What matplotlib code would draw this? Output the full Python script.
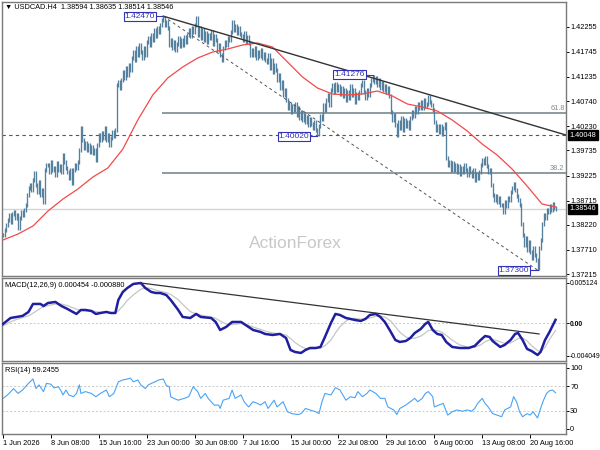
import matplotlib
matplotlib.use('Agg')
import matplotlib.pyplot as plt
import matplotlib.transforms as mtransforms
import numpy as np

plt.rcParams['font.family'] = ['Liberation Sans', 'DejaVu Sans']

# ---- USDCAD H4 closes, one list per trading week ----
wk_jun01 = [1.3801, 1.3811, 1.3822, 1.3832, 1.3842, 1.3828, 1.3844, 1.3848, 1.3836, 1.3842,
            1.3816, 1.3836, 1.3848, 1.3842, 1.3852, 1.3863, 1.3883, 1.3897, 1.3903, 1.3893,
            1.3913, 1.3928, 1.3903, 1.3889, 1.3909, 1.3883, 1.3893, 1.3869, 1.3934, 1.3944]
wk_jun08 = [1.3944, 1.3930, 1.3950, 1.3934, 1.3938, 1.3924, 1.3948, 1.3934, 1.3942, 1.3930,
            1.3964, 1.3950, 1.3938, 1.3930, 1.3918, 1.3934, 1.3907, 1.3934, 1.3944, 1.3938,
            1.3950, 1.3975, 1.4019, 1.3995, 1.3979, 1.3989, 1.3975, 1.3985, 1.3971, 1.3981]
wk_jun15 = [1.3969, 1.3975, 1.3954, 1.3985, 1.4005, 1.3995, 1.4009, 1.3999, 1.4019, 1.3995,
            1.4005, 1.3985, 1.3999, 1.4011, 1.4003, 1.4015, 1.4107, 1.4113, 1.4101, 1.4117,
            1.4133, 1.4121, 1.4141, 1.4127, 1.4148, 1.4137, 1.4162, 1.4174, 1.4158, 1.4182]
wk_jun22 = [1.4168, 1.4188, 1.4174, 1.4162, 1.4182, 1.4168, 1.4194, 1.4203, 1.4188, 1.4209,
            1.4198, 1.4219, 1.4207, 1.4223, 1.4215, 1.4229, 1.4239, 1.4243, 1.4229, 1.4235,
            1.4223, 1.4188, 1.4198, 1.4182, 1.4194, 1.4178, 1.4190, 1.4203, 1.4186, 1.4198]
wk_jun29 = [1.4188, 1.4205, 1.4194, 1.4209, 1.4219, 1.4207, 1.4223, 1.4215, 1.4229, 1.4243,
            1.4209, 1.4223, 1.4203, 1.4219, 1.4198, 1.4213, 1.4194, 1.4209, 1.4203, 1.4215,
            1.4190, 1.4207, 1.4198, 1.4178, 1.4188, 1.4168, 1.4158, 1.4182, 1.4194, 1.4188]
wk_jul06 = [1.4203, 1.4198, 1.4215, 1.4235, 1.4219, 1.4227, 1.4213, 1.4223, 1.4211, 1.4207,
            1.4198, 1.4213, 1.4194, 1.4205, 1.4192, 1.4168, 1.4178, 1.4168, 1.4182, 1.4162,
            1.4174, 1.4166, 1.4178, 1.4162, 1.4170, 1.4158, 1.4154, 1.4168, 1.4141, 1.4158]
wk_jul13 = [1.4133, 1.4148, 1.4137, 1.4117, 1.4127, 1.4101, 1.4113, 1.4087, 1.4097, 1.4076,
            1.4060, 1.4068, 1.4052, 1.4064, 1.4056, 1.4068, 1.4046, 1.4060, 1.4040, 1.4052,
            1.4035, 1.4046, 1.4031, 1.4042, 1.4025, 1.4038, 1.4027, 1.4019, 1.4031, 1.4015]
wk_jul20 = [1.4006, 1.4023, 1.4044, 1.4038, 1.4066, 1.4056, 1.4076, 1.4087, 1.4066, 1.4097,
            1.4107, 1.4093, 1.4109, 1.4097, 1.4105, 1.4089, 1.4101, 1.4084, 1.4097, 1.4076,
            1.4093, 1.4080, 1.4105, 1.4087, 1.4097, 1.4072, 1.4089, 1.4080, 1.4093, 1.4107]
wk_jul27 = [1.4113, 1.4093, 1.4080, 1.4097, 1.4087, 1.4107, 1.4117, 1.4124, 1.4113, 1.4121,
            1.4107, 1.4117, 1.4101, 1.4111, 1.4097, 1.4105, 1.4093, 1.4101, 1.4084, 1.4052,
            1.4035, 1.4046, 1.4025, 1.4005, 1.4031, 1.4019, 1.4040, 1.4015, 1.4035, 1.4023]
wk_aug03 = [1.4031, 1.4019, 1.4040, 1.4052, 1.4044, 1.4060, 1.4052, 1.4068, 1.4060, 1.4072,
            1.4060, 1.4076, 1.4064, 1.4068, 1.4082, 1.4072, 1.4066, 1.4056, 1.4031, 1.4015,
            1.4023, 1.4011, 1.4023, 1.4007, 1.4019, 1.4027, 1.3958, 1.3944, 1.3950, 1.3934]
wk_aug10 = [1.3948, 1.3934, 1.3944, 1.3930, 1.3942, 1.3926, 1.3938, 1.3930, 1.3944, 1.3934,
            1.3924, 1.3938, 1.3930, 1.3922, 1.3934, 1.3913, 1.3926, 1.3918, 1.3930, 1.3944,
            1.3954, 1.3948, 1.3958, 1.3942, 1.3930, 1.3934, 1.3903, 1.3883, 1.3873, 1.3881]
wk_aug17 = [1.3869, 1.3877, 1.3863, 1.3863, 1.3848, 1.3869, 1.3861, 1.3877, 1.3873, 1.3889,
            1.3897, 1.3905, 1.3893, 1.3881, 1.3873, 1.3863, 1.3824, 1.3801, 1.3781, 1.3795,
            1.3771, 1.3787, 1.3767, 1.3754, 1.3775, 1.3761, 1.3751, 1.3734, 1.3775, 1.3791]
wk_aug24 = [1.3824, 1.3842, 1.3836, 1.3852, 1.3848, 1.3860, 1.3852, 1.3864, 1.3856, 1.38546]

# ---- moving average (red), sampled every 10 bars ----
ma_bars = list(range(0, 361, 10)) + [369]
ma_vals = [1.37913, 1.38035, 1.38198, 1.38503, 1.38747, 1.38951, 1.39195, 1.39379, 1.39763, 1.40356,
           1.40865, 1.41211, 1.41435, 1.41618, 1.41740, 1.41801, 1.41883, 1.41923, 1.41842, 1.41537,
           1.41231, 1.41007, 1.40885, 1.40865, 1.40885, 1.40946, 1.40844, 1.40682, 1.40620, 1.40539,
           1.40356, 1.40132, 1.39867, 1.39643, 1.39358, 1.39012, 1.38646, 1.38585]

# ---- MACD(12,26,9) ----
macd_bars = [0, 5, 9, 13, 17, 20, 25, 27, 30, 35, 39, 43, 49, 52, 55, 59, 62, 65, 69, 72,
             75, 77, 80, 83, 87, 92, 95, 99, 102, 105, 109, 112, 117, 120, 125, 129, 132, 139, 142, 145,
             149, 153, 159, 162, 167, 172, 175, 180, 185, 189, 192, 195, 199, 202, 205, 209, 212, 215, 219, 222,
             225, 229, 232, 235, 239, 242, 245, 249, 252, 255, 259, 262, 265, 269, 272, 275, 279, 282, 284, 287,
             290, 293, 296, 300, 305, 311, 315, 319, 322, 325, 327, 332, 335, 339, 342, 344, 347, 350, 353, 357,
             359, 362, 365, 369]
macd_main = [-0.00006, 0.00069, 0.00082, 0.00095, 0.00145, 0.00246, 0.00246, 0.00220, 0.00258, 0.00271,
             0.00220, 0.00183, 0.00120, 0.00170, 0.00170, 0.00158, 0.00120, 0.00132, 0.00145, 0.00132,
             0.00132, 0.00296, 0.00397, 0.00447, 0.00498, 0.00510, 0.00447, 0.00397, 0.00384, 0.00384,
             0.00359, 0.00296, 0.00170, 0.00082, 0.00069, 0.00120, 0.00082, 0.00069, 0.00019, -0.00082,
             -0.00044, 0.00019, 0.00019, -0.00019, -0.00082, -0.00107, -0.00132, -0.00145, -0.00132, -0.00183,
             -0.00334, -0.00359, -0.00372, -0.00334, -0.00309, -0.00309, -0.00296, -0.00170, 0.00006, 0.00120,
             0.00107, 0.00069, 0.00057, 0.00044, 0.00032, 0.00057, 0.00107, 0.00120, 0.00082, 0.00019,
             -0.00107, -0.00208, -0.00233, -0.00221, -0.00183, -0.00120, -0.00069, -0.00006, 0.00019, -0.00082,
             -0.00132, -0.00145, -0.00233, -0.00296, -0.00309, -0.00309, -0.00284, -0.00208, -0.00158, -0.00170,
             -0.00221, -0.00296, -0.00271, -0.00208, -0.00132, -0.00120, -0.00208, -0.00321, -0.00347, -0.00397,
             -0.00359, -0.00208, -0.00107, 0.000454]
macd_signal = [-0.00030, 0.00020, 0.00050, 0.00075, 0.00095, 0.00130, 0.00190, 0.00210, 0.00225, 0.00245,
               0.00245, 0.00225, 0.00180, 0.00165, 0.00160, 0.00160, 0.00150, 0.00140, 0.00138, 0.00135,
               0.00133, 0.00160, 0.00220, 0.00290, 0.00360, 0.00430, 0.00450, 0.00440, 0.00420, 0.00405,
               0.00390, 0.00365, 0.00300, 0.00240, 0.00150, 0.00120, 0.00105, 0.00080, 0.00065, 0.00030,
               -0.00005, -0.00015, 0.00000, -0.00010, -0.00045, -0.00075, -0.00095, -0.00120, -0.00130, -0.00145,
               -0.00190, -0.00240, -0.00290, -0.00315, -0.00320, -0.00315, -0.00310, -0.00280, -0.00210, -0.00120,
               -0.00040, 0.00030, 0.00060, 0.00065, 0.00055, 0.00055, 0.00070, 0.00090, 0.00095, 0.00080,
               0.00030, -0.00040, -0.00110, -0.00170, -0.00190, -0.00185, -0.00160, -0.00120, -0.00090, -0.00080,
               -0.00090, -0.00110, -0.00150, -0.00210, -0.00270, -0.00300, -0.00300, -0.00270, -0.00230, -0.00205,
               -0.00200, -0.00230, -0.00250, -0.00245, -0.00215, -0.00190, -0.00180, -0.00220, -0.00280, -0.00340,
               -0.00360, -0.00300, -0.00200, -0.00088]

# ---- RSI(14) ----
rsi_bars = [0, 3, 7, 10, 13, 17, 20, 22, 24, 27, 29, 32, 34, 37, 39, 40, 42, 44, 47, 49,
            51, 52, 55, 59, 62, 65, 69, 71, 74, 77, 80, 83, 85, 87, 90, 92, 95, 97, 101, 104,
            107, 109, 111, 112, 114, 117, 121, 124, 127, 130, 132, 135, 137, 141, 144, 145, 147, 151, 153, 155,
            159, 161, 164, 167, 170, 172, 175, 177, 181, 183, 187, 190, 193, 197, 199, 202, 205, 209, 211, 213,
            215, 219, 222, 225, 229, 232, 235, 237, 240, 243, 245, 249, 252, 255, 257, 261, 263, 265, 269, 272,
            275, 277, 280, 282, 284, 287, 288, 291, 294, 297, 300, 303, 307, 310, 313, 315, 317, 320, 322, 324,
            327, 330, 333, 335, 339, 341, 343, 345, 347, 350, 352, 354, 357, 359, 361, 363, 365, 367, 369]
rsi_vals = [50, 55.5, 66, 58, 63.6, 74.5, 81.6, 66, 72, 61, 74.5, 73, 67, 69, 61, 55.5, 63.6, 55.5, 52.7, 58,
            72, 58, 61, 58, 52.7, 58, 63.6, 52.7, 58, 77, 80, 81.6, 83, 77, 80, 72, 66, 72, 76.5, 80,
            81.6, 71, 69, 52.7, 50, 47, 50, 52.7, 69, 61, 50, 58, 50, 39, 39, 33.5, 47, 50, 63.6, 50,
            55.5, 44.5, 36, 44.5, 41.7, 39, 44.5, 33.5, 47, 36, 44.5, 28, 25, 23.6, 25, 33.5, 31, 28, 25, 44.5,
            58, 55.5, 67.5, 63.6, 47, 52.7, 51, 61, 52.7, 58, 63.6, 58, 50, 50, 36, 31, 23.6, 33.5, 39, 44.5,
            50, 44.5, 50, 58, 61, 52.7, 36, 39, 41.7, 22.6, 28, 31, 29, 31, 29, 33.5, 41.7, 50, 41.7, 36,
            25, 22.6, 20, 31, 36, 52.7, 44.5, 28, 20, 25, 22.6, 28, 18, 33.5, 47, 58, 62.5, 63.6, 59.2455]

# ---- drawn objects ----
swing_hi, swing_lo = 1.42470, 1.37300
fib_ratios = [0.618, 0.382]
fib_start_bar = 107
trend_bars, trend_prices = [107, 376], [1.42470, 1.40050]
channel_bars, channel_prices = [107, 357], [1.42470, 1.37300]
macd_trend_bars, macd_trend_vals = [92, 358], [0.00510, -0.00132]
tag_bars = [107, 247, 210, 357]
tag_prices = [1.42470, 1.41276, 1.40020, 1.37300]
support_level = 1.40048
last_price = 1.38546

price_ticks = [1.42255, 1.41745, 1.41235, 1.40740, 1.40230, 1.39735,
               1.39225, 1.38715, 1.38220, 1.37710, 1.37215]
date_bars = list(range(0, 353, 32))
date_labels = ['1 Jun 2026', '8 Jun 08:00', '15 Jun 16:00', '23 Jun 00:00', '30 Jun 08:00',
               '7 Jul 16:00', '15 Jul 00:00', '22 Jul 08:00', '29 Jul 16:00', '6 Aug 00:00',
               '13 Aug 08:00', '20 Aug 16:00']

closes = np.array(wk_jun01 + wk_jun08 + wk_jun15 + wk_jun22 + wk_jun29 + wk_jul06 + wk_jul13
                  + wk_jul20 + wk_jul27 + wk_aug03 + wk_aug10 + wk_aug17 + wk_aug24)
opens = np.r_[closes[0], closes[:-1]]
wick = 0.0004
highs = np.maximum(opens, closes) + wick
lows = np.minimum(opens, closes) - wick
bars = np.arange(len(closes))

FS = 5.3
frame_col = '#7a7a7a'
tag_col = '#3333b8'

fig = plt.figure(figsize=(6, 4.5), dpi=100)
ax1 = fig.add_axes([2/600, 174/450, 564/600, 274/450])
ax2 = fig.add_axes([2/600, 89/450, 564/600, 83/450])
ax3 = fig.add_axes([2/600, 16/450, 564/600, 71/450])

for ax in (ax1, ax2, ax3):
    ax.set_xlim(-0.7, 376)
    for s in ax.spines.values():
        s.set_color(frame_col)
        s.set_linewidth(1.0)
    ax.yaxis.tick_right()
    ax.tick_params(axis='y', direction='out', length=2, width=0.7, labelsize=FS, pad=1, colors='black')
    ax.tick_params(axis='x', direction='out', length=3, width=0.7, labelsize=FS, pad=1)
    ax.set_xticks([])

# ---------- main price panel ----------
ax1.set_ylim(1.37180, 1.42758)
ax1.axhline(last_price, color='#d4d4d4', lw=1.0, zorder=1)
ax1.axhline(support_level, color='#555555', lw=0.8, ls=(0, (3, 3)), zorder=1)
for r in fib_ratios:
    lvl = swing_lo + r * (swing_hi - swing_lo)
    ax1.plot([fib_start_bar, 376], [lvl, lvl], color='#8c9b9e', lw=1.4, zorder=1)
    ax1.text(375, lvl + 0.0003, f'{r*100:.1f}', fontsize=FS, color='#7f8c8f', ha='right', va='bottom')

ax1.vlines(bars, lows, highs, color='#55819e', lw=0.95, zorder=2)
ax1.plot(ma_bars, ma_vals, color='#f24a4a', lw=0.9, zorder=3)
ax1.plot(trend_bars, trend_prices, color='#333333', lw=1.0, zorder=4)
ax1.plot(channel_bars, channel_prices, color='#555555', lw=0.7, ls=(0, (3, 3)), zorder=4)

for b, p in zip(tag_bars, tag_prices):
    ax1.plot([b - 5, b], [p, p], color=tag_col, lw=0.8, zorder=5)
    ax1.text(b - 5.5, p, f'{p:.5f}', fontsize=6, color=tag_col, ha='right', va='center', zorder=6,
             bbox=dict(boxstyle='square,pad=0.12', fc='white', ec=tag_col, lw=0.8))

ax1.set_yticks(price_ticks)
ax1.set_yticklabels([f'{t:.5f}' for t in price_ticks])
tr1 = mtransforms.blended_transform_factory(ax1.transAxes, ax1.transData)
for p in (support_level, last_price):
    ax1.text(1.006, p, f'{p:.5f}', transform=tr1, fontsize=FS, color='white', ha='left', va='center',
             clip_on=False, bbox=dict(boxstyle='square,pad=0.2', fc='black', ec='black'))

ax1.text(0.005, 0.982, '\u25bc USDCAD.H4  1.38594 1.38635 1.38514 1.38546', transform=ax1.transAxes,
         fontsize=FS, ha='left', va='center', color='black')
ax1.text(0.52, 0.12, 'ActionForex', transform=ax1.transAxes, fontsize=12.5, color='#c8c8c8',
         ha='center', va='center', zorder=0)

# ---------- MACD panel ----------
ax2.set_ylim(-0.00473, 0.00573)
ax2.axhline(0, color='#c8c8c8', lw=0.7, ls=(0, (2, 2)), zorder=1)
ax2.plot(macd_bars, macd_signal, color='#c6c6c6', lw=0.9, zorder=2)
ax2.plot(macd_bars, macd_main, color='#1f1fa0', lw=1.8, zorder=3)
ax2.plot(macd_trend_bars, macd_trend_vals, color='#333333', lw=0.9, zorder=4)
ax2.set_yticks([0.005124, 0.0, -0.004049])
ax2.set_yticklabels(['0.005124', '0.00', '-0.004049'])
ax2.tick_params(axis='y', labelsize=4.9, pad=0.6)
ax2.get_yticklabels()[1].set_fontweight('bold')
ax2.text(0.005, 0.915, 'MACD(12,26,9) 0.000454 -0.000880', transform=ax2.transAxes,
         fontsize=FS, ha='left', va='center')

# ---------- RSI panel ----------
ax3.set_ylim(-8.2, 107.7)
for lvl in (70, 30):
    ax3.axhline(lvl, color='#c8c8c8', lw=0.7, ls=(0, (2, 2)), zorder=1)
ax3.plot(rsi_bars, rsi_vals, color='#4aa3f5', lw=0.8, zorder=2)
ax3.set_yticks([100, 70, 30, 0])
ax3.set_yticklabels(['100', '70', '30', '0'])
ax3.text(0.005, 0.9, 'RSI(14) 59.2455', transform=ax3.transAxes, fontsize=FS, ha='left', va='center')
ax3.set_xticks(date_bars)
ax3.set_xticklabels(date_labels, ha='left')

fig.savefig('out.png', dpi=100)
